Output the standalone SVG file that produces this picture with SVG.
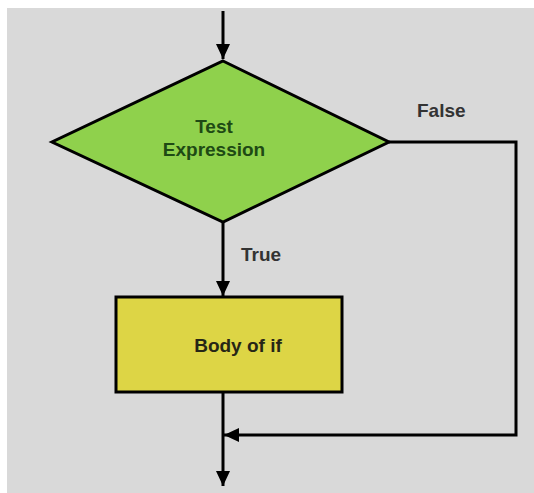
<svg xmlns="http://www.w3.org/2000/svg" width="534" height="493" viewBox="0 0 534 493">
  <style>
    .lbl { font-family: "Liberation Sans", Arial, sans-serif; font-weight: bold; font-size: 19px; }
    .edge { fill: none; stroke: #000; stroke-width: 3; }
  </style>
  <defs>
    <marker id="arr" viewBox="0 0 15 14" refX="15" refY="7" markerWidth="15" markerHeight="14" markerUnits="userSpaceOnUse" orient="auto">
      <path d="M0,0 L15,7 L0,14 z" fill="#000"/>
    </marker>
  </defs>
  <rect x="0" y="0" width="534" height="493" fill="#ffffff"/>
  <rect x="7" y="8" width="527" height="485" fill="#d9d9d9"/>

  <g id="decision">
    <polygon points="223,61 389,142 223,222 52,142" fill="#8fd14c" stroke="#000" stroke-width="3" stroke-linejoin="miter"/>
    <text class="lbl" x="214" y="133" text-anchor="middle" fill="#1e4a14">Test</text>
    <text class="lbl" x="214" y="156" text-anchor="middle" fill="#1e4a14">Expression</text>
  </g>

  <g id="body">
    <rect x="116" y="297" width="226" height="95" fill="#ddd545" stroke="#000" stroke-width="3"/>
    <text class="lbl" x="238" y="352" text-anchor="middle" fill="#262616">Body of if</text>
  </g>

  <g id="connectors">
    <path class="edge" d="M223,11 V59" marker-end="url(#arr)"/>
    <path class="edge" d="M223,222 V296" marker-end="url(#arr)"/>
    <path class="edge" d="M223,392 V486" marker-end="url(#arr)"/>
    <path class="edge" d="M389,142 H516 V435 H224" marker-end="url(#arr)"/>
    <text class="lbl" x="241" y="261" fill="#333333">True</text>
    <text class="lbl" x="417" y="117" fill="#333333">False</text>
  </g>
</svg>
